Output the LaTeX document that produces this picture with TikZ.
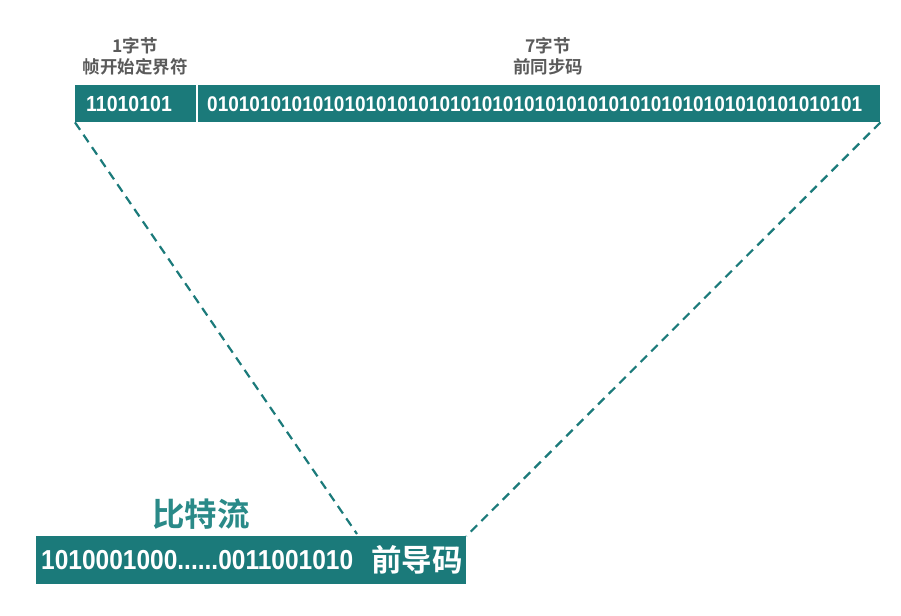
\documentclass[tikz,border=0pt]{standalone}
\usepackage{fontspec}
\setmainfont{Liberation Sans}
\newfontfamily\cjk{Noto Sans CJK SC}[BoldFont={Noto Sans CJK SC Bold}]
\definecolor{barteal}{HTML}{1B7A7A}
\definecolor{labteal}{HTML}{2A8A88}
\definecolor{labgray}{HTML}{5A5A5A}
\tikzset{
  bar/.style={fill=barteal, text=white, inner sep=0pt, font=\bfseries},
  toplabel/.style={text=labgray, align=center, font=\cjk\bfseries\fontsize{17.5}{21}\selectfont},
  guide/.style={line width=2.2pt, barteal, dash pattern=on 9pt off 6pt},
}

\begin{document}
\begin{tikzpicture}[x=1pt,y=-1pt]
\useasboundingbox (0,0) rectangle (901,615);

% frame fields
\node[bar, anchor=north west, minimum width=121, minimum height=37] (sfd) at (75,85) {};
\node[bar, anchor=north west, minimum width=682, minimum height=37] (pre) at (198,85) {};
\node[anchor=west, text=white, inner sep=0pt, font=\bfseries\fontsize{19.5}{19}\selectfont]
      (sfdbits) at (86,104) {\scalebox{1}[1.12]{11010101}};
\node[anchor=west, text=white, inner sep=0pt, font=\bfseries\fontsize{19}{19}\selectfont]
      (prebits) at (207,104) {\scalebox{1}[1.12]{01010101010101010101010101010101010101010101010101010101010101}};

\node[toplabel] (sfdlab) at (135,56) {1字节\\帧开始定界符};
\node[toplabel] (prelab) at (548,56) {7字节\\前同步码};

% bit stream
\node[bar, anchor=north west, minimum width=430, minimum height=48] (stream) at (36,536) {};
\node[anchor=west, text=white, inner sep=0pt, font=\bfseries\fontsize{24.5}{24}\selectfont]
      (bits) at (41,560) {\scalebox{1}[1.12]{1010001000......0011001010}};
\node[anchor=east, text=white, inner sep=0pt, font=\cjk\bfseries\fontsize{30.5}{30}\selectfont]
      (lead) at (463,560) {前导码};
\node[text=labteal, font=\cjk\bfseries\fontsize{32.5}{32}\selectfont] (title) at (201,514) {比特流};

\coordinate (s1) at (357,534);
\draw[guide] (sfd.south west) -- (s1);
\draw[guide] (pre.south east) -- (stream.north east);

\end{tikzpicture}
\end{document}
